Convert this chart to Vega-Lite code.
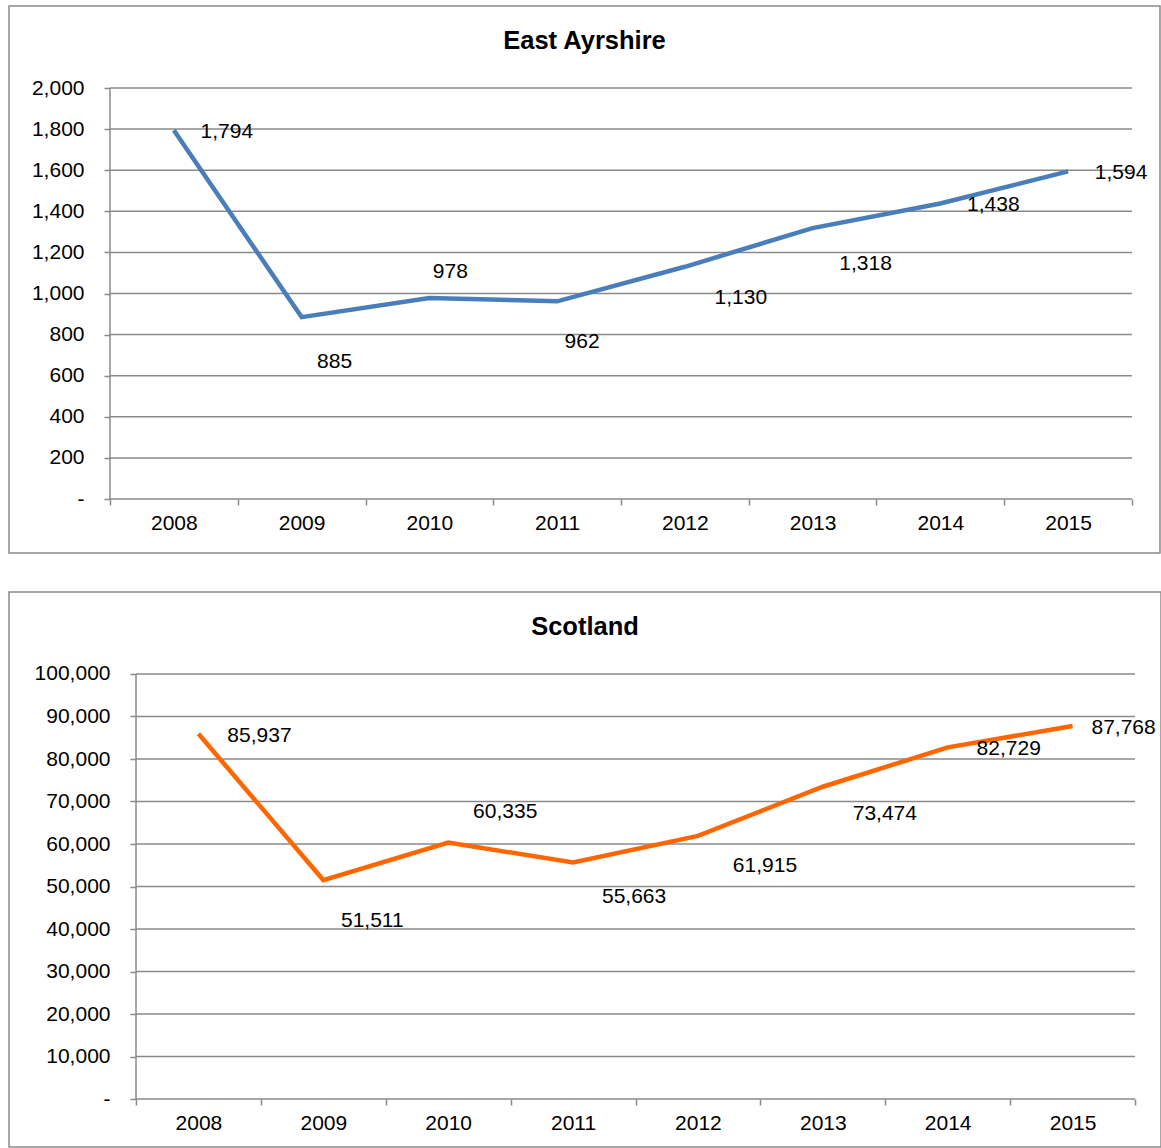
{
  "$schema": "https://vega.github.io/schema/vega-lite/v6.json",
  "padding": {"left": 8, "top": 5, "right": 0, "bottom": 0},
  "background": "white",
  "config": {
    "font": "Liberation Sans",
    "view": {"stroke": "#8a8a8a", "strokeWidth": 1.5},
    "concat": {"spacing": 37}
  },
  "datasets": {
    "ea": [
      {"year": 2008, "value": 1794}, {"year": 2009, "value": 885}, {"year": 2010, "value": 978},
      {"year": 2011, "value": 962}, {"year": 2012, "value": 1130}, {"year": 2013, "value": 1318},
      {"year": 2014, "value": 1438}, {"year": 2015, "value": 1594}
    ],
    "sc": [
      {"year": 2008, "value": 85937}, {"year": 2009, "value": 51511}, {"year": 2010, "value": 60335},
      {"year": 2011, "value": 55663}, {"year": 2012, "value": 61915}, {"year": 2013, "value": 73474},
      {"year": 2014, "value": 82729}, {"year": 2015, "value": 87768}
    ],
    "gridEA": [
      {"tick": 0}, {"tick": 200}, {"tick": 400}, {"tick": 600}, {"tick": 800}, {"tick": 1000},
      {"tick": 1200}, {"tick": 1400}, {"tick": 1600}, {"tick": 1800}, {"tick": 2000}
    ],
    "gridSC": [
      {"tick": 0}, {"tick": 10000}, {"tick": 20000}, {"tick": 30000}, {"tick": 40000}, {"tick": 50000},
      {"tick": 60000}, {"tick": 70000}, {"tick": 80000}, {"tick": 90000}, {"tick": 100000}
    ]
  },
  "vconcat": [
    {
      "width": 1151,
      "height": 547,
      "title": {"text": "East Ayrshire", "fontSize": 25.5, "fontWeight": "bold", "color": "#000000", "anchor": "middle", "frame": "group", "baseline": "alphabetic", "offset": -68},
      "layer": [
        {
          "data": {"name": "gridEA"},
          "mark": {"type": "rule", "color": "#8a8a8a", "strokeWidth": 1.5},
          "encoding": {
            "y": {
              "field": "tick", "type": "quantitative", "title": null,
              "scale": {"domain": [-262.77, 2399.03], "nice": false, "zero": false},
              "axis": {
                "title": null, "values": [0, 200, 400, 600, 800, 1000, 1200, 1400, 1600, 1800, 2000],
                "offset": -101, "domain": false, "grid": false, "tickSize": 6, "tickColor": "#8a8a8a", "tickWidth": 1.5,
                "labelFontSize": 21, "labelColor": "#000000", "labelPadding": 20,
                "labelExpr": "datum.value == 0 ? '-\u00a0\u00a0' : format(datum.value, ',.0f')"
              }
            },
            "x": {
              "datum": 2007.5, "type": "quantitative", "title": null,
              "scale": {"domain": [2006.70939, 2015.71918], "nice": false, "zero": false},
              "axis": {
                "title": null, "values": [2007.5, 2008, 2008.5, 2009, 2009.5, 2010, 2010.5, 2011, 2011.5, 2012, 2012.5, 2013, 2013.5, 2014, 2014.5, 2015, 2015.5],
                "offset": -54, "domain": false, "grid": false, "tickSize": 6, "tickColor": "#8a8a8a", "tickWidth": 1.5,
                "tickOpacity": {"condition": {"test": "datum.value % 1 == 0", "value": 0}, "value": 1},
                "labelFontSize": 21, "labelColor": "#000000", "labelPadding": 7, "labelOverlap": false, "labelFlush": false,
                "labelExpr": "datum.value % 1 == 0 ? format(datum.value, 'd') : ''"
              }
            },
            "x2": {"datum": 2015.5}
          }
        },
        {
          "data": {"values": [{}]},
          "mark": {"type": "rule", "color": "#8a8a8a", "strokeWidth": 1.5},
          "encoding": {
            "x": {"datum": 2007.5, "type": "quantitative", "title": null},
            "y": {"datum": 0, "type": "quantitative", "title": null},
            "y2": {"datum": 2000}
          }
        },
        {
          "data": {"name": "ea"},
          "mark": {"type": "line", "color": "#4a7ebb", "strokeWidth": 4.5},
          "encoding": {
            "x": {"field": "year", "type": "quantitative", "title": null},
            "y": {"field": "value", "type": "quantitative", "title": null}
          }
        },
        {
          "data": {"name": "ea"},
          "transform": [{"filter": {"field": "year", "oneOf": [2008, 2014, 2015]}}],
          "mark": {"type": "text", "fontSize": 21, "color": "#000000", "align": "center", "baseline": "middle", "dx": 53, "dy": 2},
          "encoding": {
            "x": {"field": "year", "type": "quantitative", "title": null},
            "y": {"field": "value", "type": "quantitative", "title": null},
            "text": {"field": "value", "format": ","}
          }
        },
        {
          "data": {"name": "ea"},
          "transform": [{"filter": {"field": "year", "oneOf": [2009]}}],
          "mark": {"type": "text", "fontSize": 21, "color": "#000000", "align": "center", "baseline": "middle", "dx": 33, "dy": 45},
          "encoding": {
            "x": {"field": "year", "type": "quantitative", "title": null},
            "y": {"field": "value", "type": "quantitative", "title": null},
            "text": {"field": "value", "format": ","}
          }
        },
        {
          "data": {"name": "ea"},
          "transform": [{"filter": {"field": "year", "oneOf": [2011]}}],
          "mark": {"type": "text", "fontSize": 21, "color": "#000000", "align": "center", "baseline": "middle", "dx": 25, "dy": 41},
          "encoding": {
            "x": {"field": "year", "type": "quantitative", "title": null},
            "y": {"field": "value", "type": "quantitative", "title": null},
            "text": {"field": "value", "format": ","}
          }
        },
        {
          "data": {"name": "ea"},
          "transform": [{"filter": {"field": "year", "oneOf": [2012]}}],
          "mark": {"type": "text", "fontSize": 21, "color": "#000000", "align": "center", "baseline": "middle", "dx": 56, "dy": 31},
          "encoding": {
            "x": {"field": "year", "type": "quantitative", "title": null},
            "y": {"field": "value", "type": "quantitative", "title": null},
            "text": {"field": "value", "format": ","}
          }
        },
        {
          "data": {"name": "ea"},
          "transform": [{"filter": {"field": "year", "oneOf": [2013]}}],
          "mark": {"type": "text", "fontSize": 21, "color": "#000000", "align": "center", "baseline": "middle", "dx": 53, "dy": 36},
          "encoding": {
            "x": {"field": "year", "type": "quantitative", "title": null},
            "y": {"field": "value", "type": "quantitative", "title": null},
            "text": {"field": "value", "format": ","}
          }
        },
        {
          "data": {"name": "ea"},
          "transform": [{"filter": {"field": "year", "oneOf": [2010]}}],
          "mark": {"type": "text", "fontSize": 21, "color": "#000000", "align": "center", "baseline": "middle", "dx": 21, "dy": -26},
          "encoding": {
            "x": {"field": "year", "type": "quantitative", "title": null},
            "y": {"field": "value", "type": "quantitative", "title": null},
            "text": {"field": "value", "format": ","}
          }
        }
      ]
    },
    {
      "width": 1152,
      "height": 555,
      "title": {"text": "Scotland", "fontSize": 25.5, "fontWeight": "bold", "color": "#000000", "anchor": "middle", "frame": "group", "baseline": "alphabetic", "offset": -68},
      "layer": [
        {
          "data": {"name": "gridSC"},
          "mark": {"type": "rule", "color": "#8a8a8a", "strokeWidth": 1.5},
          "encoding": {
            "y": {
              "field": "tick", "type": "quantitative", "title": null,
              "scale": {"domain": [-11294.1, 119294.1], "nice": false, "zero": false},
              "axis": {
                "title": null, "values": [0, 10000, 20000, 30000, 40000, 50000, 60000, 70000, 80000, 90000, 100000],
                "offset": -127, "domain": false, "grid": false, "tickSize": 6, "tickColor": "#8a8a8a", "tickWidth": 1.5,
                "labelFontSize": 21, "labelColor": "#000000", "labelPadding": 20,
                "labelExpr": "datum.value == 0 ? '-\u00a0\u00a0' : format(datum.value, ',.0f')"
              }
            },
            "x": {
              "datum": 2007.5, "type": "quantitative", "title": null,
              "scale": {"domain": [2006.48298, 2015.70821], "nice": false, "zero": false},
              "axis": {
                "title": null, "values": [2007.5, 2008, 2008.5, 2009, 2009.5, 2010, 2010.5, 2011, 2011.5, 2012, 2012.5, 2013, 2013.5, 2014, 2014.5, 2015, 2015.5],
                "offset": -48, "domain": false, "grid": false, "tickSize": 6, "tickColor": "#8a8a8a", "tickWidth": 1.5,
                "tickOpacity": {"condition": {"test": "datum.value % 1 == 0", "value": 0}, "value": 1},
                "labelFontSize": 21, "labelColor": "#000000", "labelPadding": 7, "labelOverlap": false, "labelFlush": false,
                "labelExpr": "datum.value % 1 == 0 ? format(datum.value, 'd') : ''"
              }
            },
            "x2": {"datum": 2015.5}
          }
        },
        {
          "data": {"values": [{}]},
          "mark": {"type": "rule", "color": "#8a8a8a", "strokeWidth": 1.5},
          "encoding": {
            "x": {"datum": 2007.5, "type": "quantitative", "title": null},
            "y": {"datum": 0, "type": "quantitative", "title": null},
            "y2": {"datum": 100000}
          }
        },
        {
          "data": {"name": "sc"},
          "mark": {"type": "line", "color": "#ff6600", "strokeWidth": 4.5},
          "encoding": {
            "x": {"field": "year", "type": "quantitative", "title": null},
            "y": {"field": "value", "type": "quantitative", "title": null}
          }
        },
        {
          "data": {"name": "sc"},
          "transform": [{"filter": {"field": "year", "oneOf": [2008, 2014]}}],
          "mark": {"type": "text", "fontSize": 21, "color": "#000000", "align": "center", "baseline": "middle", "dx": 61, "dy": 2},
          "encoding": {
            "x": {"field": "year", "type": "quantitative", "title": null},
            "y": {"field": "value", "type": "quantitative", "title": null},
            "text": {"field": "value", "format": ","}
          }
        },
        {
          "data": {"name": "sc"},
          "transform": [{"filter": {"field": "year", "oneOf": [2015]}}],
          "mark": {"type": "text", "fontSize": 21, "color": "#000000", "align": "center", "baseline": "middle", "dx": 51, "dy": 2},
          "encoding": {
            "x": {"field": "year", "type": "quantitative", "title": null},
            "y": {"field": "value", "type": "quantitative", "title": null},
            "text": {"field": "value", "format": ","}
          }
        },
        {
          "data": {"name": "sc"},
          "transform": [{"filter": {"field": "year", "oneOf": [2009]}}],
          "mark": {"type": "text", "fontSize": 21, "color": "#000000", "align": "center", "baseline": "middle", "dx": 49, "dy": 41},
          "encoding": {
            "x": {"field": "year", "type": "quantitative", "title": null},
            "y": {"field": "value", "type": "quantitative", "title": null},
            "text": {"field": "value", "format": ","}
          }
        },
        {
          "data": {"name": "sc"},
          "transform": [{"filter": {"field": "year", "oneOf": [2011]}}],
          "mark": {"type": "text", "fontSize": 21, "color": "#000000", "align": "center", "baseline": "middle", "dx": 61, "dy": 35},
          "encoding": {
            "x": {"field": "year", "type": "quantitative", "title": null},
            "y": {"field": "value", "type": "quantitative", "title": null},
            "text": {"field": "value", "format": ","}
          }
        },
        {
          "data": {"name": "sc"},
          "transform": [{"filter": {"field": "year", "oneOf": [2012]}}],
          "mark": {"type": "text", "fontSize": 21, "color": "#000000", "align": "center", "baseline": "middle", "dx": 67, "dy": 30},
          "encoding": {
            "x": {"field": "year", "type": "quantitative", "title": null},
            "y": {"field": "value", "type": "quantitative", "title": null},
            "text": {"field": "value", "format": ","}
          }
        },
        {
          "data": {"name": "sc"},
          "transform": [{"filter": {"field": "year", "oneOf": [2013]}}],
          "mark": {"type": "text", "fontSize": 21, "color": "#000000", "align": "center", "baseline": "middle", "dx": 62, "dy": 27},
          "encoding": {
            "x": {"field": "year", "type": "quantitative", "title": null},
            "y": {"field": "value", "type": "quantitative", "title": null},
            "text": {"field": "value", "format": ","}
          }
        },
        {
          "data": {"name": "sc"},
          "transform": [{"filter": {"field": "year", "oneOf": [2010]}}],
          "mark": {"type": "text", "fontSize": 21, "color": "#000000", "align": "center", "baseline": "middle", "dx": 57, "dy": -31},
          "encoding": {
            "x": {"field": "year", "type": "quantitative", "title": null},
            "y": {"field": "value", "type": "quantitative", "title": null},
            "text": {"field": "value", "format": ","}
          }
        }
      ]
    }
  ]
}
